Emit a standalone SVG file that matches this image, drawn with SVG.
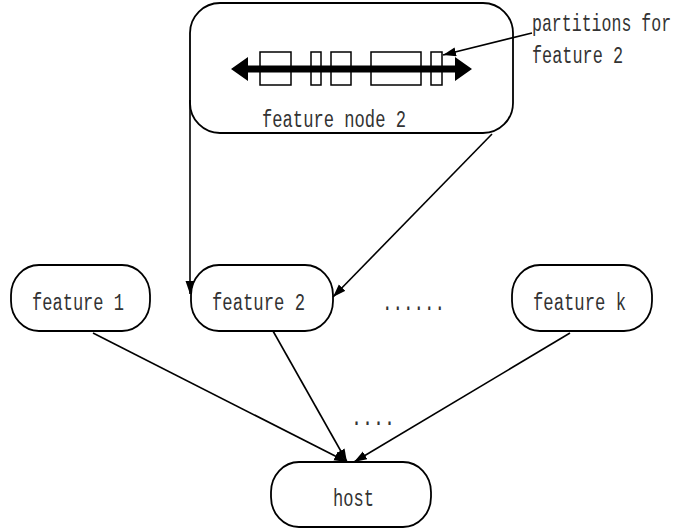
<svg xmlns="http://www.w3.org/2000/svg" width="680" height="529" viewBox="0 0 680 529">
<style>
.box{fill:#fff;stroke:#000;stroke-width:1.8}
.part{fill:#fff;stroke:#000;stroke-width:1.5}
.lbl{font-family:"Liberation Mono","DejaVu Sans Mono",monospace;font-size:23px;fill:#333}
.edge{fill:none;stroke:#000;stroke-width:1.6;marker-end:url(#ah)}
</style>
<defs>
<marker id="ah" markerUnits="userSpaceOnUse" markerWidth="14" markerHeight="10" refX="13" refY="4.5" orient="auto">
<path d="M0,0 L13,4.5 L0,9 z" fill="#000"/>
</marker>
</defs>
<rect width="680" height="529" fill="#fff"/>
<g id="feature-node-2">
<rect class="box" x="190" y="3" width="323" height="130" rx="30" ry="30"/>
<rect class="part" x="260" y="52" width="31" height="33"/>
<rect class="part" x="311" y="52" width="10" height="33"/>
<rect class="part" x="331" y="52" width="20" height="33"/>
<rect class="part" x="371" y="52" width="50" height="33"/>
<rect class="part" x="431" y="52" width="11" height="33"/>
<polygon points="231,69 248,57 248,65.5 455,65.5 455,57 472,69 455,81 455,72.5 248,72.5 248,81" fill="#000"/>
<text class="lbl" x="262" y="127" textLength="144" lengthAdjust="spacingAndGlyphs">feature node 2</text>
</g>
<g id="partitions-label">
<text class="lbl" transform="translate(532,31) scale(0.72,1)" x="0" y="0">partitions for</text>
<text class="lbl" x="532" y="63" textLength="91" lengthAdjust="spacingAndGlyphs">feature 2</text>
</g>
<g id="feature-1">
<rect class="box" x="11" y="265" width="139" height="66" rx="28" ry="30"/>
<text class="lbl" x="32" y="310" textLength="92" lengthAdjust="spacingAndGlyphs">feature 1</text>
</g>
<g id="feature-2">
<rect class="box" x="191" y="265" width="142" height="66" rx="28" ry="30"/>
<text class="lbl" x="212" y="310" textLength="93" lengthAdjust="spacingAndGlyphs">feature 2</text>
</g>
<g id="ellipsis-1">
<text class="lbl" x="382" y="310" textLength="63" lengthAdjust="spacingAndGlyphs">......</text>
</g>
<g id="feature-k">
<rect class="box" x="512" y="265" width="140" height="66" rx="28" ry="30"/>
<text class="lbl" x="533" y="310" textLength="93" lengthAdjust="spacingAndGlyphs">feature k</text>
</g>
<g id="ellipsis-2">
<text class="lbl" x="351" y="425" textLength="44" lengthAdjust="spacingAndGlyphs">....</text>
</g>
<g id="host">
<rect class="box" x="271" y="462" width="160" height="65" rx="28" ry="30"/>
<text class="lbl" x="333" y="506" textLength="41" lengthAdjust="spacingAndGlyphs">host</text>
</g>
<g id="connectors">
<line class="edge" x1="190" y1="100" x2="190" y2="294"/>
<line class="edge" x1="492" y1="134" x2="333" y2="297"/>
<line class="edge" x1="93" y1="333" x2="347" y2="462"/>
<line class="edge" x1="273" y1="331" x2="347" y2="462"/>
<line class="edge" x1="570" y1="333" x2="354" y2="462"/>
<line class="edge" x1="532" y1="33" x2="443" y2="55"/>
</g>
</svg>
